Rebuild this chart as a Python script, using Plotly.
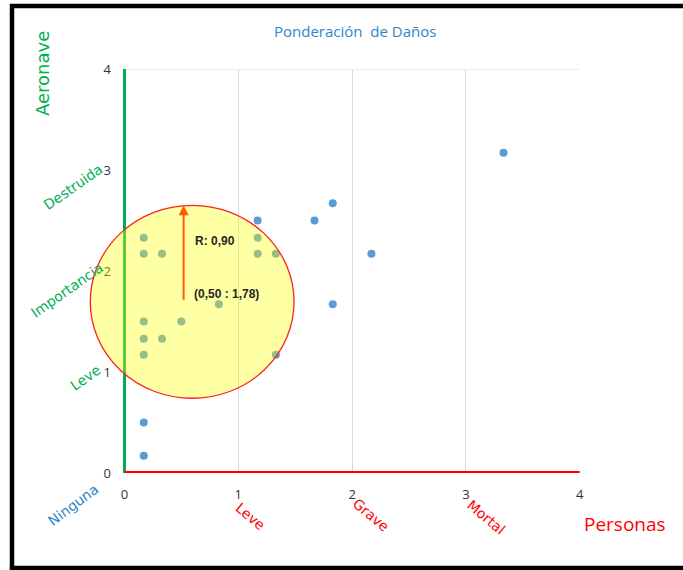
import plotly.graph_objects as go

# ---- data ----
personas = [0.17, 0.17, 0.17, 0.17, 0.17, 0.33, 0.50, 0.83, 0.17, 0.17, 0.33,
            1.17, 1.17, 1.17, 1.33, 1.33, 1.67, 1.83, 1.83, 2.17, 3.33]
aeronave = [0.17, 0.50, 1.17, 1.33, 1.50, 1.33, 1.50, 1.67, 2.17, 2.33, 2.17,
            2.50, 2.33, 2.17, 2.17, 1.17, 2.50, 2.67, 1.67, 2.17, 3.17]
tick_vals = [0, 1, 2, 3, 4]
x_categories = ["Ninguna", "Leve", "Grave", "Mortal"]
y_categories = ["Leve", "Importancia", "Destruida"]
centro_x, centro_y, radio = 0.50, 1.78, 0.90
title_text = "Ponderación  de Daños"

W, H = 683, 570
L, R, T, B = 88, 580, 69, 473  # plot area in px


def px(x):
    return (x - L) / (R - L)


def py(y):
    return (B - y) / (B - T)


fig = go.Figure()
fig.add_trace(go.Scatter(
    x=personas, y=aeronave, mode="markers",
    marker=dict(color="#5B9BD5", size=8),
    showlegend=False, hoverinfo="x+y"))

shapes = []
shapes.append(dict(type="line", xref="x", yref="y", x0=0, x1=4, y0=4, y1=4,
                   line=dict(color="#D9D9D9", width=1), layer="below"))
shapes.append(dict(type="line", xref="x", yref="y", x0=0, x1=4, y0=0, y1=0,
                   line=dict(color="#FF0000", width=4), layer="above"))
shapes.append(dict(type="circle", xref="x", yref="y",
                   x0=-0.30, x1=1.49, y0=0.74, y1=2.65,
                   fillcolor="rgba(255,255,0,0.36)",
                   line=dict(color="#FF2020", width=1.3), layer="above"))
shapes.append(dict(type="rect", xref="paper", yref="paper",
                   x0=px(12), x1=px(700), y0=py(6), y1=py(568),
                   line=dict(color="black", width=4.5), layer="above"))

annotations = []
annotations.append(dict(x=centro_x + 0.02, y=2.65, ax=centro_x + 0.02, ay=1.70,
                        xref="x", yref="y", axref="x", ayref="y", showarrow=True,
                        arrowhead=2, arrowsize=1, arrowwidth=2,
                        arrowcolor="#FF5A0A", text=""))
lab_font = dict(family="Liberation Sans, Arial", size=12, color="#262626")
annotations.append(dict(x=px(193), y=py(241), xref="paper", yref="paper",
                        text="<b>R: 0,90</b>", showarrow=False,
                        xanchor="left", yanchor="middle", font=lab_font))
annotations.append(dict(x=px(192), y=py(294), xref="paper", yref="paper",
                        text="<b>(0,50 : 1,78)</b>", showarrow=False,
                        xanchor="left", yanchor="middle", font=lab_font))


def label(x, y, text, font, angle=0):
    annotations.append(dict(x=px(x), y=py(y), xref="paper", yref="paper",
                            text=text, showarrow=False, textangle=angle,
                            xanchor="center", yanchor="middle", font=font))


label(355, 31, title_text, dict(family="Open Sans", size=15, color="#2F86C8"))
label(42, 74, "Aeronave", dict(family="DejaVu Sans", size=18, color="#00B050"), -90)
label(625, 524, "Personas", dict(family="Open Sans", size=19, color="#FF0000"))

x_pos = [(73, 505, -37, "#2F86C8"), (250, 516, 40, "#FF0000"),
         (371, 515, 40, "#FF0000"), (486, 517, 40, "#FF0000")]
for lab, (xx, yy, ang, col) in zip(x_categories, x_pos):
    label(xx, yy, lab, dict(family="DejaVu Sans", size=14, color=col), ang)

y_pos = [(85, 378), (67, 290), (73, 187)]
for lab, (xx, yy) in zip(y_categories, y_pos):
    label(xx, yy, lab, dict(family="DejaVu Sans", size=14, color="#00B050"), -35)

fig.update_layout(
    width=W, height=H,
    margin=dict(l=L, r=W - R, t=T, b=H - B, pad=0),
    paper_bgcolor="white", plot_bgcolor="white",
    shapes=shapes, annotations=annotations,
    xaxis=dict(range=[-0.32, 4.002], tickvals=tick_vals, showgrid=True,
               gridcolor="#D9D9D9", gridwidth=1, zeroline=True,
               zerolinecolor="#00B050", zerolinewidth=2.5, showline=False,
               ticks="", ticklabelstandoff=12,
               tickfont=dict(family="Open Sans", size=13, color="#333333")),
    yaxis=dict(range=[0, 4], tickvals=tick_vals, showgrid=False,
               zeroline=False, showline=False, ticks="",
               ticklabelstandoff=-24,
               tickfont=dict(family="Open Sans", size=13, color="#333333")),
)

fig.write_html(
    "out.html",
    config={"displayModeBar": False},
    post_script="document.body.style.margin='0';document.body.style.overflow='hidden';",
)
